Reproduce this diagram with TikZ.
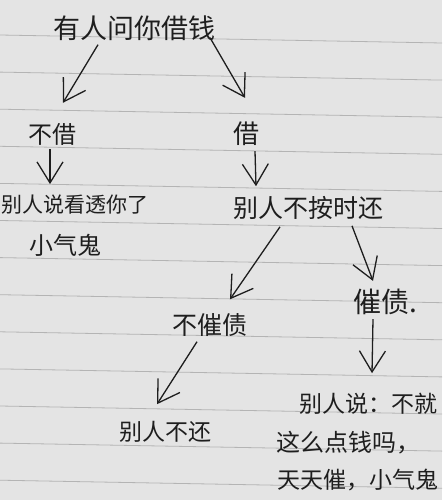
\documentclass[tikz,border=0pt]{standalone}
\usepackage{fontspec}
\newfontfamily\cjk{Noto Sans CJK SC}
\usepackage{tikz}
\usetikzlibrary{arrows.meta,calc}
\definecolor{ink}{HTML}{1E1E1E}
\definecolor{paper}{HTML}{E4E4E4}
\definecolor{ruling}{HTML}{B4B4B4}
\begin{document}
\begin{tikzpicture}[
    x=1pt, y=-1pt,
    word/.style={font=\cjk\fontsize{24}{28}\selectfont, text=ink, inner sep=0pt},
    arrow/.style={-{Straight Barb[length=21pt,width=26pt]}, line width=1.3pt, draw=ink},
    rule/.style={draw=ruling, line width=0.8pt}
]
    \useasboundingbox (0,0) rectangle (442,500);
    \fill[paper] (0,0) rectangle (442,500);
    \foreach \k in {0,...,12}
        \draw[rule] (0,{35+37.1*\k}) -- (442,{43+37.1*\k});

    \node[word, font=\cjk\fontsize{27}{30}\selectfont] (ask) at (134,28) {有人问你借钱};
    \node[word] (nojie) at (52,134) {不借};
    \node[word, font=\cjk\fontsize{26}{30}\selectfont] (jie) at (246,134) {借};
    \node[word, font=\cjk\fontsize{21}{24}\selectfont] (said) at (75,205) {别人说看透你了};
    \node[word] (stingy) at (65,245) {小气鬼};
    \node[word, font=\cjk\fontsize{25}{28}\selectfont] (late) at (308,208) {别人不按时还};
    \node[word, font=\cjk\fontsize{25}{28}\selectfont] (nocui) at (210,325) {不催债};
    \node[word, font=\cjk\fontsize{28}{30}\selectfont] (cui) at (385,302) {催债.};
    \node[word, font=\cjk\fontsize{23}{26}\selectfont] (never) at (165,432) {别人不还};
    \node[word, font=\cjk\fontsize{23}{26}\selectfont] (reply) at (368,404) {别人说：不就};
    \node[word] (replyb) at (348,443) {这么点钱吗，};
    \node[word, font=\cjk\fontsize{23}{26}\selectfont] (replyc) at (358,480) {天天催，小气鬼};

    \draw[arrow] ($(ask.south)+(-36,4)$) -- ($(nojie.north)+(11,-20)$);
    \draw[arrow] ($(ask.south)+(76,-3)$) -- ($(jie.north)+(-1,-24)$);
    \draw[arrow] ($(nojie.south)+(-2,4)$) -- ($(said.north)+(-25,-11)$);
    \draw[arrow] ($(jie.south)+(9,5)$) -- ($(late.north)+(-52,-10)$);
    \draw[arrow] ($(late.south)+(-28,7)$) -- ($(nocui.north)+(20,-14)$);
    \draw[arrow] ($(late.south)+(44,6)$) -- ($(cui.north)+(-12,-8)$);
    \draw[arrow] ($(cui.south)+(-12,4)$) -- ($(reply.north)+(4,-20)$);
    \draw[arrow] ($(nocui.south)+(-13,5)$) -- ($(never.north)+(-8,-17)$);
\end{tikzpicture}
\end{document}
